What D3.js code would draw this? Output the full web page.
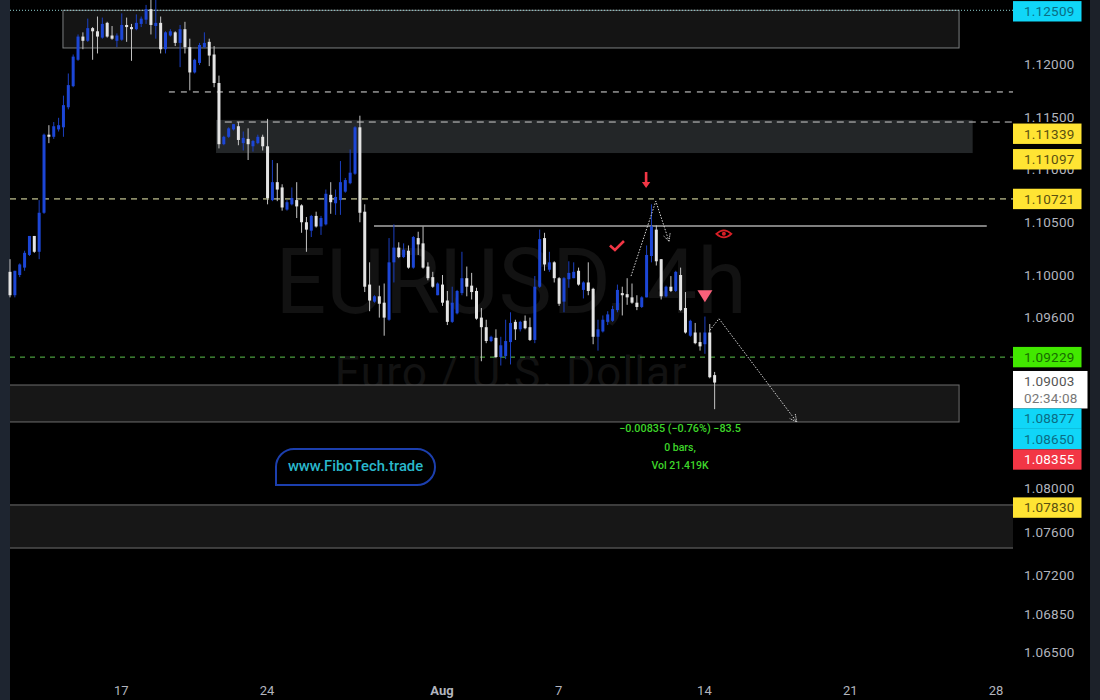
<!DOCTYPE html>
<html><head><meta charset="utf-8">
<script src="https://cdn.jsdelivr.net/npm/d3@7"></script>
<style>html,body{margin:0;padding:0;background:#000;overflow:hidden}svg{display:block}text{font-family:Roboto,sans-serif}</style>
</head><body><svg id="c" width="1100" height="700"></svg>
<script>
const opens=[1.1003,1.0981,1.1000,1.1007,1.1019,1.1037,1.1022,1.1059,1.1133,1.1131,1.1138,1.1140,1.1159,1.1179,1.1204,1.1226,1.1222,1.1234,1.1231,1.1225,1.1239,1.1227,1.1222,1.1223,1.1237,1.1235,1.1233,1.1238,1.1242,1.1252,1.1236,1.1239,1.1214,1.1227,1.1230,1.1220,1.1233,1.1216,1.1192,1.1201,1.1216,1.1221,1.1209,1.1182,1.1124,1.1131,1.1138,1.1141,1.1125,1.1129,1.1122,1.1125,1.1131,1.1122,1.1071,1.1088,1.1083,1.1062,1.1067,1.1071,1.1066,1.1050,1.1042,1.1056,1.1046,1.1048,1.1076,1.1068,1.1071,1.1079,1.1087,1.1096,1.1140,1.1060,1.0991,1.0975,1.0980,1.0974,1.0958,1.1012,1.1026,1.1017,1.1023,1.1007,1.1035,1.1030,1.1008,1.0998,1.0981,1.0991,1.0976,1.0956,1.0964,1.0983,1.0997,1.0990,1.0985,1.0960,1.0951,1.0938,1.0941,1.0923,1.0924,1.0937,1.0956,1.0949,1.0957,1.0951,1.0939,1.0989,1.1035,1.1005,1.1012,1.0997,1.0975,1.0996,1.0997,1.1004,1.0986,1.0993,1.0987,1.0942,1.0947,1.0956,1.0957,1.0967,1.0983,1.0982,1.0979,1.0974,1.0970,1.0979,1.1018,1.1043,1.1015,1.0980,1.0989,1.0985,1.1000,1.0969,1.0943,1.0946,1.0937,1.0935,1.0946,1.0906];
const highs=[1.1015,1.1004,1.1011,1.1023,1.1037,1.1037,1.1071,1.1134,1.1142,1.1145,1.1149,1.1170,1.1191,1.1209,1.1228,1.1230,1.1243,1.1235,1.1245,1.1244,1.1240,1.1236,1.1229,1.1248,1.1244,1.1238,1.1247,1.1245,1.1256,1.1261,1.1265,1.1245,1.1231,1.1233,1.1231,1.1237,1.1240,1.1224,1.1205,1.1220,1.1230,1.1224,1.1217,1.1189,1.1132,1.1140,1.1143,1.1145,1.1136,1.1139,1.1128,1.1133,1.1133,1.1148,1.1109,1.1106,1.1086,1.1071,1.1083,1.1088,1.1067,1.1055,1.1057,1.1060,1.1056,1.1081,1.1088,1.1081,1.1108,1.1092,1.1119,1.1141,1.1151,1.1067,1.1012,1.0981,1.0990,1.0992,1.1035,1.1048,1.1031,1.1030,1.1028,1.1037,1.1041,1.1046,1.1012,1.1003,1.0993,1.1000,1.0985,1.0989,1.0986,1.1022,1.1008,1.1002,1.0988,1.0969,1.0958,1.0943,1.0949,1.0942,1.0958,1.0965,1.0958,1.0957,1.0962,1.0960,1.0999,1.1043,1.1040,1.1022,1.1013,1.0998,1.0998,1.1013,1.1012,1.1007,1.0994,1.1012,1.0988,1.0958,1.0962,1.0966,1.0971,1.0991,1.0989,1.0997,1.0992,1.0981,1.0980,1.1028,1.1067,1.1047,1.1015,1.0990,1.0999,1.1004,1.1007,1.0984,1.0958,1.0955,1.0946,1.0961,1.0954,1.0909];
const lows=[1.0979,1.0979,1.0998,1.1004,1.1018,1.1021,1.1015,1.1058,1.1125,1.1129,1.1136,1.1131,1.1157,1.1178,1.1203,1.1214,1.1221,1.1204,1.1210,1.1224,1.1225,1.1223,1.1216,1.1222,1.1221,1.1203,1.1232,1.1235,1.1238,1.1228,1.1224,1.1210,1.1210,1.1226,1.1217,1.1197,1.1210,1.1175,1.1191,1.1199,1.1215,1.1198,1.1178,1.1120,1.1123,1.1130,1.1137,1.1123,1.1118,1.1109,1.1117,1.1124,1.1118,1.1067,1.1070,1.1070,1.1061,1.1061,1.1066,1.1054,1.1040,1.1022,1.1036,1.1045,1.1038,1.1047,1.1058,1.1057,1.1057,1.1078,1.1086,1.1095,1.1050,1.0984,1.0966,1.0974,1.0960,1.0943,1.0957,1.0993,1.1016,1.1016,1.1006,1.1006,1.1019,1.1006,1.0995,1.0988,1.0981,1.0971,1.0953,1.0955,1.0963,1.0981,1.0980,1.0977,1.0958,1.0919,1.0936,1.0937,1.0922,1.0915,1.0921,1.0916,1.0939,1.0947,1.0949,1.0938,1.0936,1.0988,1.1004,1.1003,1.0993,1.0971,1.0965,1.0988,1.0997,1.0990,1.0978,1.0981,1.0935,1.0929,1.0946,1.0953,1.0956,1.0965,1.0962,1.0972,1.0973,1.0967,1.0969,1.0979,1.1012,1.1009,1.0977,1.0979,1.0984,1.0984,1.0966,1.0945,1.0942,1.0935,1.0929,1.0926,1.0903,1.0874];
const closes=[1.0981,1.1004,1.1010,1.1021,1.1037,1.1022,1.1059,1.1133,1.1131,1.1141,1.1142,1.1161,1.1180,1.1207,1.1226,1.1222,1.1234,1.1231,1.1226,1.1238,1.1226,1.1224,1.1227,1.1237,1.1235,1.1233,1.1239,1.1243,1.1252,1.1237,1.1239,1.1214,1.1230,1.1231,1.1220,1.1233,1.1216,1.1192,1.1204,1.1218,1.1220,1.1208,1.1182,1.1124,1.1131,1.1139,1.1143,1.1128,1.1130,1.1124,1.1127,1.1131,1.1122,1.1073,1.1088,1.1081,1.1064,1.1069,1.1073,1.1065,1.1050,1.1043,1.1056,1.1046,1.1054,1.1077,1.1069,1.1074,1.1088,1.1090,1.1097,1.1140,1.1059,1.0989,1.0976,1.0980,1.0973,1.0960,1.1012,1.1026,1.1017,1.1024,1.1007,1.1036,1.1029,1.1007,1.0997,1.0989,1.0992,1.0974,1.0956,1.0974,1.0985,1.0997,1.0989,1.0984,1.0959,1.0951,1.0938,1.0942,1.0923,1.0934,1.0938,1.0955,1.0949,1.0956,1.0950,1.0939,1.0989,1.1034,1.1010,1.1012,1.0997,1.0973,1.0997,1.1002,1.1003,1.0991,1.0993,1.0985,1.0942,1.0949,1.0958,1.0963,1.0968,1.0986,1.0981,1.0979,1.0974,1.0970,1.0979,1.1019,1.1046,1.1013,1.0980,1.0989,1.0985,1.1003,1.0967,1.0946,1.0957,1.0936,1.0933,1.0946,1.0904,1.0899];

const priceTicks=[1.12,1.115,1.11,1.105,1.10,1.096,1.08,1.076,1.072,1.0685,1.065];
const timeTicks=[23,53,89,113,143,173,203];
const timeLabels=["17","24","Aug","7","14","21","28"];

const tagPrices=[1.12509,1.11339,1.11097,1.10721,1.09229,1.09003,1.08877,1.0865,1.08355,1.0783];
const tagFills=["#10d6f8","#ffe433","#ffe433","#ffe433","#42e800","#ffffff","#10d6f8","#10d6f8","#f23645","#ffe433"];
const tagInks=["#0a6d84","#5a5010","#5a5010","#5a5010","#176b00","#555555","#0a6d84","#0a6d84","#ffffff","#5a5010"];

const zoneStarts=[10.9,42.4,-2,-2];
const zoneEnds=[195.3,198.1,195.3,210];
const zoneTops=[1.12509,1.1147,1.08967,1.07845];
const zoneBottoms=[1.12152,1.11156,1.0862,1.07451];
const zoneFills=["#141414","#232628","#171717","#171717"];
const zoneEdges=["#7c7f80","none","#6e6e6e","#6e6e6e"];

const levelStarts=[0,32.7,44.2,0,74.9,0];
const levelEnds=[206.4,206.4,206.4,206.4,201,206.4];
const levelPrices=[1.12509,1.11735,1.1145,1.10721,1.10464,1.09229];
const levelColors=["#8fd0d0","#e0e0e0","#cfcfcf","#f0f2b4","#a8a8a8","#5cc24c"];
const levelDashes=["1 2","6 6","7 5","6 5","","5 5"];

const moveOneBars=[127.8,132.9,135.6];
const moveOnePrices=[1.0999,1.1070,1.1032];
const moveTwoBars=[144,145.9,161.9];
const moveTwoPrices=[1.0948,1.0959,1.0862];

const statLines=["\u22120.00835 (\u22120.76%) \u221283.5","0 bars,","Vol 21.419K"];

const svg=d3.select("#c");
const x=d3.scaleLinear().domain([0,206.4]).range([10,1013]);
const y=d3.scaleLinear().domain([1.065,1.08,1.10,1.12]).range([652,488,275,64]);

svg.append("rect").attr("width",1100).attr("height",700).attr("fill","#000");
svg.append("rect").attr("width",10).attr("height",700).attr("fill","#1e2530");
svg.append("rect").attr("x",1090).attr("width",10).attr("height",700).attr("fill","#1c2129");

const defs=svg.append("defs");
defs.append("clipPath").attr("id","plot").append("rect").attr("x",10).attr("y",0).attr("width",1003).attr("height",700);

// watermark
svg.append("text").attr("x",511).attr("y",313).attr("text-anchor","middle").attr("font-size",90).attr("fill","#121212").text("EURUSD, 4h");
svg.append("text").attr("x",511).attr("y",388).attr("text-anchor","middle").attr("font-size",44.4).attr("fill","#121212").attr("letter-spacing",1).text("Euro / U.S. Dollar");

// zones
svg.append("g").attr("clip-path","url(#plot)").selectAll("rect").data(zoneTops).join("rect")
  .attr("x",(d,i)=>x(zoneStarts[i])).attr("width",(d,i)=>x(zoneEnds[i])-x(zoneStarts[i]))
  .attr("y",d=>y(d)).attr("height",(d,i)=>y(zoneBottoms[i])-y(d))
  .attr("fill",(d,i)=>zoneFills[i]).attr("stroke",(d,i)=>zoneEdges[i]).attr("stroke-width",1);

// levels
svg.append("g").selectAll("line").data(levelPrices).join("line")
  .attr("x1",(d,i)=>x(levelStarts[i])).attr("x2",(d,i)=>x(levelEnds[i]))
  .attr("y1",d=>y(d)).attr("y2",d=>y(d))
  .attr("stroke",(d,i)=>levelColors[i]).attr("stroke-width",(d,i)=>i==4?1.5:1)
  .attr("stroke-dasharray",(d,i)=>levelDashes[i]);

// candles
const up=i=>closes[i]>=opens[i];
const colorOf=i=>up(i)?"#1c46d6":"#e4e4e4";
const wickOf=i=>up(i)?"#1b3fc0":"#c4c4c4";
const cg=svg.append("g").style("filter","blur(0.35px)");
cg.selectAll("line").data(opens).join("line")
  .attr("x1",(d,i)=>x(i)).attr("x2",(d,i)=>x(i))
  .attr("y1",(d,i)=>y(highs[i])).attr("y2",(d,i)=>y(lows[i]))
  .attr("stroke",(d,i)=>wickOf(i)).attr("stroke-width",1);
cg.selectAll("rect").data(opens).join("rect")
  .attr("x",(d,i)=>x(i)-1.5).attr("width",3)
  .attr("y",(d,i)=>y(Math.max(d,closes[i])))
  .attr("height",(d,i)=>Math.max(1.5,Math.abs(y(d)-y(closes[i]))))
  .attr("fill",(d,i)=>colorOf(i));

// dotted move arrows
defs.append("marker").attr("id","ah").attr("viewBox","0 0 10 10").attr("refX",9).attr("refY",5)
  .attr("markerWidth",9).attr("markerHeight",9).attr("orient","auto").attr("markerUnits","userSpaceOnUse")
  .append("path").attr("d","M1 1L9 5L1 9").attr("fill","none").attr("stroke","#d8d8d8").attr("stroke-width",1).attr("stroke-dasharray","1.5 1");
const mv=d3.line().x(d=>x(d[0])).y(d=>y(d[1]));
[[moveOneBars,moveOnePrices],[moveTwoBars,moveTwoPrices]].forEach(([b,p])=>{
  svg.append("path").attr("d",mv(d3.zip(b,p))).attr("fill","none").attr("stroke","#d8d8d8")
    .attr("stroke-width",1).attr("stroke-dasharray","1.5 1.5").attr("marker-end","url(#ah)");
});

// red marks
const red="#f23645";
const mark=(b,p)=>svg.append("g").attr("transform",`translate(${x(b)},${y(p)})`);
mark(130.9,1.1090).append("path").attr("d","M-1.3 -8H1.3V2H4.2L0 8L-4.2 2H-1.3Z").attr("fill",red);
mark(124.9,1.1028).append("path").attr("d","M-7 0L-2 4.5L7 -4.5").attr("fill","none").attr("stroke",red).attr("stroke-width",2.6);
mark(143,1.0980).append("path").attr("d","M-7.5 -6H7.5L0 6Z").attr("fill","#f9607a");
const eye=mark(146.9,1.1039);
eye.append("path").attr("d","M-7.5 0Q0 -7 7.5 0Q0 7 -7.5 0Z").attr("fill","none").attr("stroke","#d81f26").attr("stroke-width",1.8);
eye.append("circle").attr("r",2).attr("fill","#d81f26");

// stats
svg.append("g").selectAll("text").data(statLines).join("text")
  .attr("x",680).attr("y",(d,i)=>432+i*18.5).attr("text-anchor","middle")
  .attr("font-size",(d,i)=>i?10.5:10.8).attr("font-weight",500).attr("fill","#3ed62a").text(d=>d);

// brand box
svg.append("path").attr("d","M276 485V467A18 18 0 0 1 294 449H417A18 18 0 0 1 417 485Z")
  .attr("fill","#000").attr("stroke","#1c3fae").attr("stroke-width",2);
svg.append("text").attr("x",355.5).attr("y",471).attr("text-anchor","middle").attr("font-size",14.8)
  .attr("fill","#2ab8cc").attr("font-weight",500).text("www.FiboTech.trade");

// axes
const yAxis=d3.axisRight(y).tickValues(priceTicks).tickSize(0).tickFormat(d3.format(".5f"));
const yg=svg.append("g").attr("transform","translate(1024,0)").call(yAxis);
yg.select(".domain").remove();
yg.selectAll("text").attr("x",0).attr("font-size",13.5).attr("font-family","Roboto,sans-serif").attr("fill","#b2b5be").attr("letter-spacing",0.2);

const xAxis=d3.axisBottom(x).tickValues(timeTicks).tickSize(0).tickFormat((d,i)=>timeLabels[i]);
const xg=svg.append("g").attr("transform","translate(0,680)").call(xAxis);
xg.select(".domain").remove();
xg.selectAll("text").attr("font-size",13).attr("font-family","Roboto,sans-serif").attr("fill","#b2b5be").attr("y",6).attr("dx",-1).attr("font-weight",(d,i)=>i==2?700:400);

// price tags, stacked like the platform does
let bottom=-Infinity;
const tg=svg.append("g");
tagPrices.forEach((p,i)=>{
  const top=Math.max(y(p)-10.2,bottom)+(i===0||i===9?1:0);
  const clock=p===1.09003, h=clock?37.5:20.4;
  tg.append("rect").attr("x",1013).attr("y",top).attr("width",clock?74.5:68.5).attr("height",h).attr("fill",tagFills[i]);
  tg.append("text").attr("x",1024).attr("y",top+15).attr("font-size",13.5).attr("letter-spacing",0.2).attr("fill",tagInks[i]).text(d3.format(".5f")(p));
  if(clock) tg.append("text").attr("x",1024).attr("y",top+32).attr("font-size",13.5).attr("letter-spacing",0.2).attr("fill","#777").text("02:34:08");
  bottom=top+h;
});
</script></body></html>
